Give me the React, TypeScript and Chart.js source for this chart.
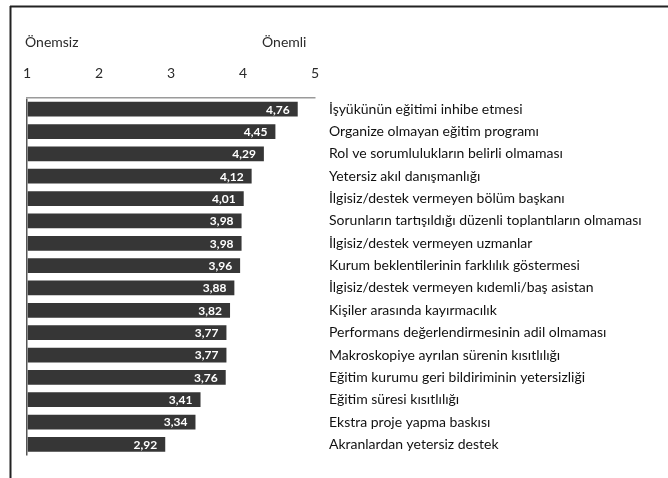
import React, { useEffect, useRef } from "react";
import { Chart, registerables } from "chart.js";

Chart.register(...registerables);

const categories: string[] = [
  "İşyükünün eğitimi inhibe etmesi",
  "Organize olmayan eğitim programı",
  "Rol ve sorumlulukların belirli olmaması",
  "Yetersiz akıl danışmanlığı",
  "İlgisiz/destek vermeyen bölüm başkanı",
  "Sorunların tartışıldığı düzenli toplantıların olmaması",
  "İlgisiz/destek vermeyen uzmanlar",
  "Kurum beklentilerinin farklılık göstermesi",
  "İlgisiz/destek vermeyen kıdemli/baş asistan",
  "Kişiler arasında kayırmacılık",
  "Performans değerlendirmesinin adil olmaması",
  "Makroskopiye ayrılan sürenin kısıtlılığı",
  "Eğitim kurumu geri bildiriminin yetersizliği",
  "Eğitim süresi kısıtlılığı",
  "Ekstra proje yapma baskısı",
  "Akranlardan yetersiz destek",
];

const values: number[] = [
  4.76, 4.45, 4.29, 4.12, 4.01, 3.98, 3.98, 3.96, 3.88, 3.82, 3.77, 3.77, 3.76,
  3.41, 3.34, 2.92,
];

const scaleTicks: number[] = [1, 2, 3, 4, 5];
const leftHeading = "Önemsiz";
const rightHeading = "Önemli";

const FONT = "Lato, 'Open Sans', sans-serif";

const framePlugin = {
  id: "framePlugin",
  beforeDraw(chart: any) {
    const { ctx, width, height } = chart;
    ctx.save();
    ctx.fillStyle = "#ffffff";
    ctx.fillRect(0, 0, width, height);
    ctx.strokeStyle = "#222222";
    ctx.lineWidth = 2;
    ctx.beginPath();
    ctx.moveTo(10, 6.5);
    ctx.lineTo(width, 6.5);
    ctx.moveTo(10.5, 6);
    ctx.lineTo(10.5, height);
    ctx.stroke();
    ctx.fillStyle = "#2a2a2a";
    ctx.font = `14px ${FONT}`;
    ctx.textBaseline = "middle";
    ctx.textAlign = "left";
    ctx.fillText(leftHeading, 25, 42);
    ctx.fillText(rightHeading, 262, 42);
    ctx.restore();
  },
};

const valueLabelPlugin = {
  id: "valueLabelPlugin",
  afterDatasetsDraw(chart: any) {
    const { ctx } = chart;
    const meta = chart.getDatasetMeta(0);
    ctx.save();
    ctx.fillStyle = "#ffffff";
    ctx.font = `bold 12px ${FONT}`;
    ctx.textAlign = "right";
    ctx.textBaseline = "middle";
    meta.data.forEach((bar: any, i: number) => {
      const v = chart.data.datasets[0].data[i] as number;
      ctx.fillText(v.toFixed(2).replace(".", ","), bar.x - 8, bar.y + 0.5);
    });
    ctx.restore();
  },
};

export default function App() {
  const ref = useRef<HTMLCanvasElement | null>(null);

  useEffect(() => {
    if (!ref.current) return;
    const chart = new Chart(ref.current, {
      type: "bar",
      data: {
        labels: categories,
        datasets: [
          {
            data: values,
            base: 1,
            backgroundColor: "#363636",
            borderWidth: 0,
            barPercentage: 0.66,
            categoryPercentage: 1,
          },
        ],
      },
      options: {
        indexAxis: "y",
        responsive: false,
        animation: false,
        layout: { padding: { left: 27, right: 0, top: 0, bottom: 16 } },
        plugins: {
          legend: { display: false },
          tooltip: { enabled: false },
          title: { display: false },
        },
        scales: {
          x: {
            position: "top",
            min: 1,
            max: 5,
            afterBuildTicks(scale: any) {
              scale.ticks = scaleTicks.map((v) => ({ value: v }));
            },
            afterFit(scale: any) {
              scale.height = 98;
            },
            ticks: {
              padding: 16,
              color: "#2a2a2a",
              font: { family: FONT, size: 14 },
              maxRotation: 0,
            },
            grid: {
              drawTicks: false,
              drawOnChartArea: true,
              color: (c: any) => (c.index === 0 ? "#555555" : "rgba(0,0,0,0)"),
              lineWidth: 1.5,
            },
            border: { display: true, color: "#9a9a9a", width: 1.5 },
          },
          y: {
            position: "right",
            afterFit(scale: any) {
              scale.width = 668 - 315;
            },
            ticks: {
              padding: 14,
              color: "#111111",
              font: { family: FONT, size: 14 },
              autoSkip: false,
            },
            grid: { display: false, drawTicks: false },
            border: { display: false },
          },
        },
      },
      plugins: [framePlugin, valueLabelPlugin],
    });
    return () => chart.destroy();
  }, []);

  return (
    <canvas
      ref={ref}
      width={668}
      height={478}
      style={{ position: "absolute", left: 0, top: 0, display: "block" }}
    />
  );
}
